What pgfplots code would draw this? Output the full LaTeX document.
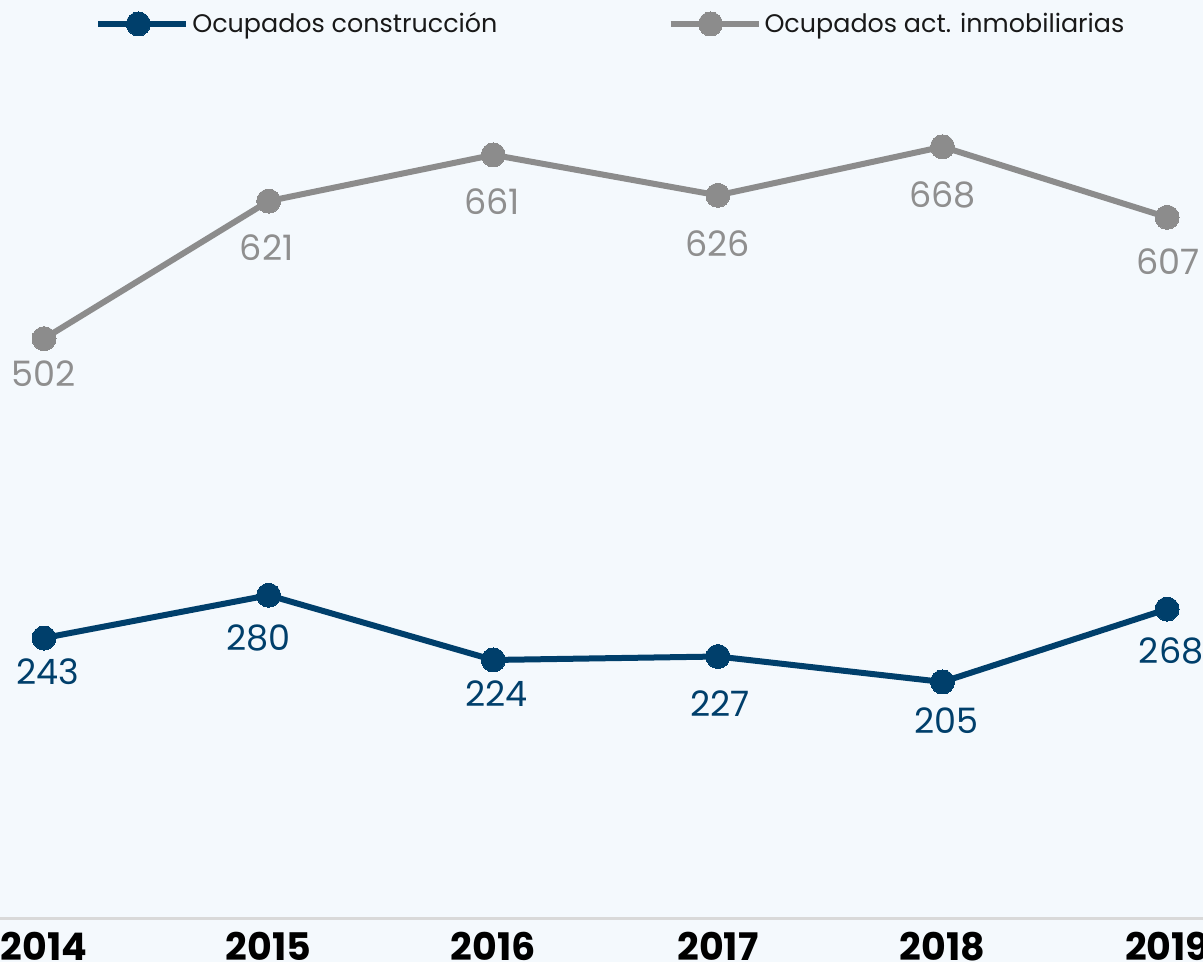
\documentclass[border=0pt]{standalone}
\usepackage{pgfplots}
\pgfplotsset{compat=1.18}
\usepackage{fontspec}
\setmainfont{Poppins}
\definecolor{bg}{HTML}{F4F9FD}
\definecolor{navy}{HTML}{003F6B}
\definecolor{grayline}{HTML}{8C8C8C}
\definecolor{graytext}{HTML}{8F8F8F}
\definecolor{axisgray}{HTML}{D9D9D9}
\pgfplotstableread{
x y dx dy
2014 502 0 -17.5
2015 621 -1 -23.5
2016 661 -0.5 -23.5
2017 626 0 -24
2018 668 0 -24
2019 607 0.5 -22
}\inmob
\pgfplotstableread{
x y dx dy
2014 243 2 -17
2015 280 -5 -21.5
2016 224 1.5 -17
2017 227 1 -23.5
2018 205 2 -19.5
2019 268 2 -21
}\constr
\begin{document}
\begin{tikzpicture}
\fill[bg] (0,0) rectangle (601.5pt,481pt);
\begin{pgfinterruptboundingbox}
\clip (0,0) rectangle (601.5pt,481pt);
\begin{axis}[
  at={(0pt,21.55pt)}, anchor=south west,
  scale only axis, width=601.5pt, height=459.45pt,
  xmin=2013.804, xmax=2019.160, ymin=0, ymax=795,
  clip=false,
  hide y axis,
  axis x line*=bottom,
  x axis line style={draw=axisgray, line width=1.5pt, -},
  xtick={2014,2015,2016,2017,2018,2019},
  major tick length=0pt,
  /pgf/number format/assume math mode=true,
  /pgf/number format/1000 sep={},
  xticklabel style={font=\bfseries\fontsize{19}{19}\selectfont, text=black, anchor=north, inner sep=0pt, yshift=-6.5pt},
  nodes near coords,
  visualization depends on={\thisrow{dx} \as \dx},
  visualization depends on={\thisrow{dy} \as \dy},
  every node near coord/.append style={anchor=center, inner sep=0pt, xshift=\dx pt, yshift=\dy pt, font=\fontsize{17.5}{18}\selectfont},
  legend columns=2,
  legend style={draw=none, fill=none, at={(0.0789,0.9739)}, anchor=west, inner sep=0pt,
    font=\fontsize{12.7}{15}\selectfont, text=black!90,
    nodes={inner sep=0pt},
    /tikz/every odd column/.append style={column sep=1.5pt},
    /tikz/every even column/.append style={column sep=85pt}},
  legend cell align=left,
  legend image code/.code={
    \draw[#1, mark=none] (0pt,0pt) -- (44pt,0pt);
    \draw[#1] plot[only marks] coordinates {(20pt,0pt)};
  },
]
\addplot[navy, line width=3pt, mark=*, mark size=6pt, mark options={solid, line width=0pt, fill=navy},
  every node near coord/.append style={text=navy}] table[x=x,y=y] {\constr};
\addlegendentry{Ocupados construcción}
\addplot[grayline, line width=3pt, mark=*, mark size=6pt, mark options={solid, line width=0pt, fill=grayline},
  every node near coord/.append style={text=graytext}] table[x=x,y=y] {\inmob};
\addlegendentry{Ocupados act. inmobiliarias}
\end{axis}
\end{pgfinterruptboundingbox}
\end{tikzpicture}
\end{document}
